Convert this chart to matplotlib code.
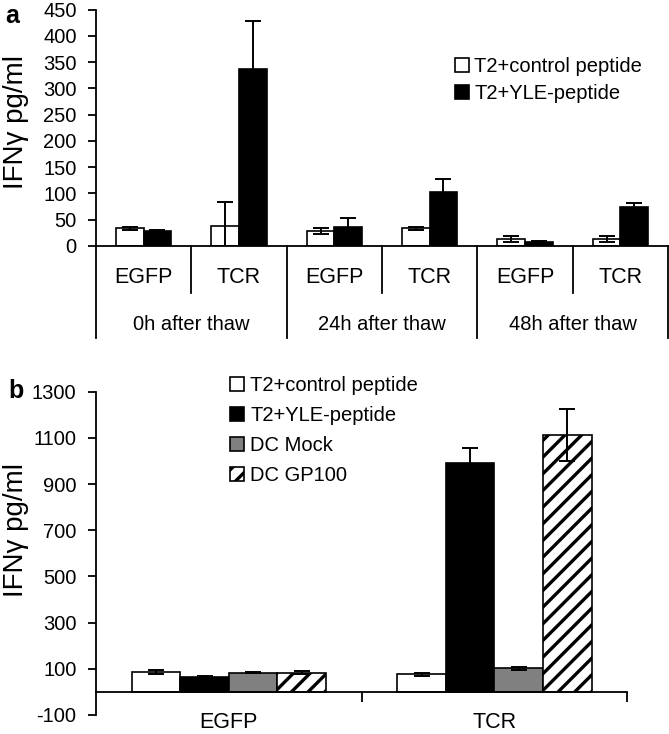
import numpy as np
import matplotlib
matplotlib.use("Agg")
import matplotlib.pyplot as plt
import matplotlib.transforms as mtransforms

plt.rcParams['font.family'] = ['Liberation Sans', 'DejaVu Sans']
plt.rcParams['hatch.linewidth'] = 2.4
plt.rcParams['axes.unicode_minus'] = False

# ---- panel a data ----
a_cats = ["EGFP", "TCR", "EGFP", "TCR", "EGFP", "TCR"]
a_groups = ["0h after thaw", "24h after thaw", "48h after thaw"]
a_ctrl = [34, 39, 29, 34, 13, 13]
a_ctrl_err = [3, 44, 6, 3, 6, 6]
a_yle = [28, 336, 37, 103, 7, 75]
a_yle_err = [2, 93, 17, 24, 3, 6]

# ---- panel b data ----
b_cats = ["EGFP", "TCR"]
b_series = ["T2+control peptide", "T2+YLE-peptide", "DC Mock", "DC GP100"]
b_ctrl = [85, 76]
b_ctrl_err = [9, 5]
b_yle = [65, 992]
b_yle_err = [3, 65]
b_mock = [84, 102]
b_mock_err = [3, 5]
b_gp100 = [84, 1112]
b_gp100_err = [8, 112]

W, H = 669, 734
fig = plt.figure(figsize=(W / 100, H / 100), dpi=100)

def fy(py):
    # pixel row -> figure fraction
    return 1 - py / H

ek = dict(fmt='none', ecolor='black', elinewidth=1.4, capsize=6, capthick=1.4)
tick_fs = 14.5

# ================= panel a =================
axa = fig.add_axes([96 / W, fy(246), (668 - 96) / W, (246 - 9.5) / H])
xa = np.arange(len(a_cats))
wa = 0.29
axa.bar(xa - wa / 2, a_ctrl, wa, color='white', edgecolor='black', linewidth=1.2,
        label="T2+control peptide")
axa.bar(xa + wa / 2, a_yle, wa, color='black', edgecolor='black', linewidth=1.2,
        label="T2+YLE-peptide")
axa.errorbar(xa - wa / 2, a_ctrl, yerr=a_ctrl_err, **ek)
axa.errorbar(xa + wa / 2, a_yle, yerr=a_yle_err, **ek)
axa.set_xlim(-0.5, len(a_cats) - 0.5)
axa.set_ylim(0, 450)
axa.set_yticks(np.arange(0, 451, 50))
axa.set_xticks([])
for s in ['top', 'right']:
    axa.spines[s].set_visible(False)
for s in ['left', 'bottom']:
    axa.spines[s].set_linewidth(1.3)
axa.tick_params(axis='y', labelsize=tick_fs, length=6, width=1.3, pad=8)

# table-like category axis below panel a
tr = mtransforms.blended_transform_factory(axa.transData, fig.transFigure)
for xv in [0.5, 2.5, 4.5]:
    axa.plot([xv, xv], [fy(246), fy(293)], color='black', lw=1.3, transform=tr, clip_on=False)
for xv in [-0.5, 1.5, 3.5, 5.5]:
    axa.plot([xv, xv], [fy(246), fy(338)], color='black', lw=1.3, transform=tr, clip_on=False)
for i, c in enumerate(a_cats):
    axa.text(i, fy(278), c, transform=tr, ha='center', va='center', fontsize=15.5)
for j, g in enumerate(a_groups):
    axa.text(2 * j + 0.5, fy(325), g, transform=tr, ha='center', va='center', fontsize=14.5)

axa.legend(loc='upper left', bbox_to_anchor=(455 / W, fy(57)), bbox_transform=fig.transFigure,
           frameon=False, fontsize=14.5, handlelength=0.7, handleheight=0.7,
           handletextpad=0.25, labelspacing=0.4, borderpad=0, borderaxespad=0)

fig.text(3 / W, fy(122), "IFNγ pg/ml", rotation=90, ha='left', va='center', fontsize=20)
fig.text(5 / W, fy(16), "a", ha='left', va='center', fontsize=18, fontweight='bold')

# ================= panel b =================
axb = fig.add_axes([96 / W, fy(715), (627.3 - 96) / W, (715 - 391.7) / H])
xb = np.arange(len(b_cats))
wb = 0.183
vals = [b_ctrl, b_yle, b_mock, b_gp100]
errs = [b_ctrl_err, b_yle_err, b_mock_err, b_gp100_err]
faces = ['white', 'black', '#808080', 'white']
hatches = [None, None, None, '//']
for k in range(4):
    off = (k - 1.5) * wb
    axb.bar(xb + off, vals[k], wb, color=faces[k], edgecolor='black', linewidth=1.2,
            hatch=hatches[k], label=b_series[k])
for k in range(4):
    off = (k - 1.5) * wb
    axb.errorbar(xb + off, vals[k], yerr=errs[k], **ek)
axb.set_xlim(-0.5, len(b_cats) - 0.5)
axb.set_ylim(-100, 1300)
axb.set_yticks(np.arange(-100, 1301, 200))
axb.spines['bottom'].set_position(('data', 0))
for s in ['top', 'right']:
    axb.spines[s].set_visible(False)
for s in ['left', 'bottom']:
    axb.spines[s].set_linewidth(1.3)
axb.set_xticks([0.5, 1.5])
axb.set_xticklabels([])
axb.tick_params(axis='x', length=7, width=1.3, direction='out')
axb.tick_params(axis='y', labelsize=tick_fs, length=6, width=1.3, pad=8)
trb = mtransforms.blended_transform_factory(axb.transData, fig.transFigure)
for i, c in enumerate(b_cats):
    axb.text(i, fy(712), c, transform=trb, ha='center', va='top', fontsize=15.5)

axb.legend(loc='upper left', bbox_to_anchor=(230 / W, fy(376)), bbox_transform=fig.transFigure,
           frameon=False, fontsize=14.5, handlelength=0.7, handleheight=0.7,
           handletextpad=0.3, labelspacing=0.55, borderpad=0, borderaxespad=0)

fig.text(3 / W, fy(530), "IFNγ pg/ml", rotation=90, ha='left', va='center', fontsize=20)
fig.text(8 / W, fy(391), "b", ha='left', va='center', fontsize=18, fontweight='bold')

fig.savefig("out.png", dpi=100)
